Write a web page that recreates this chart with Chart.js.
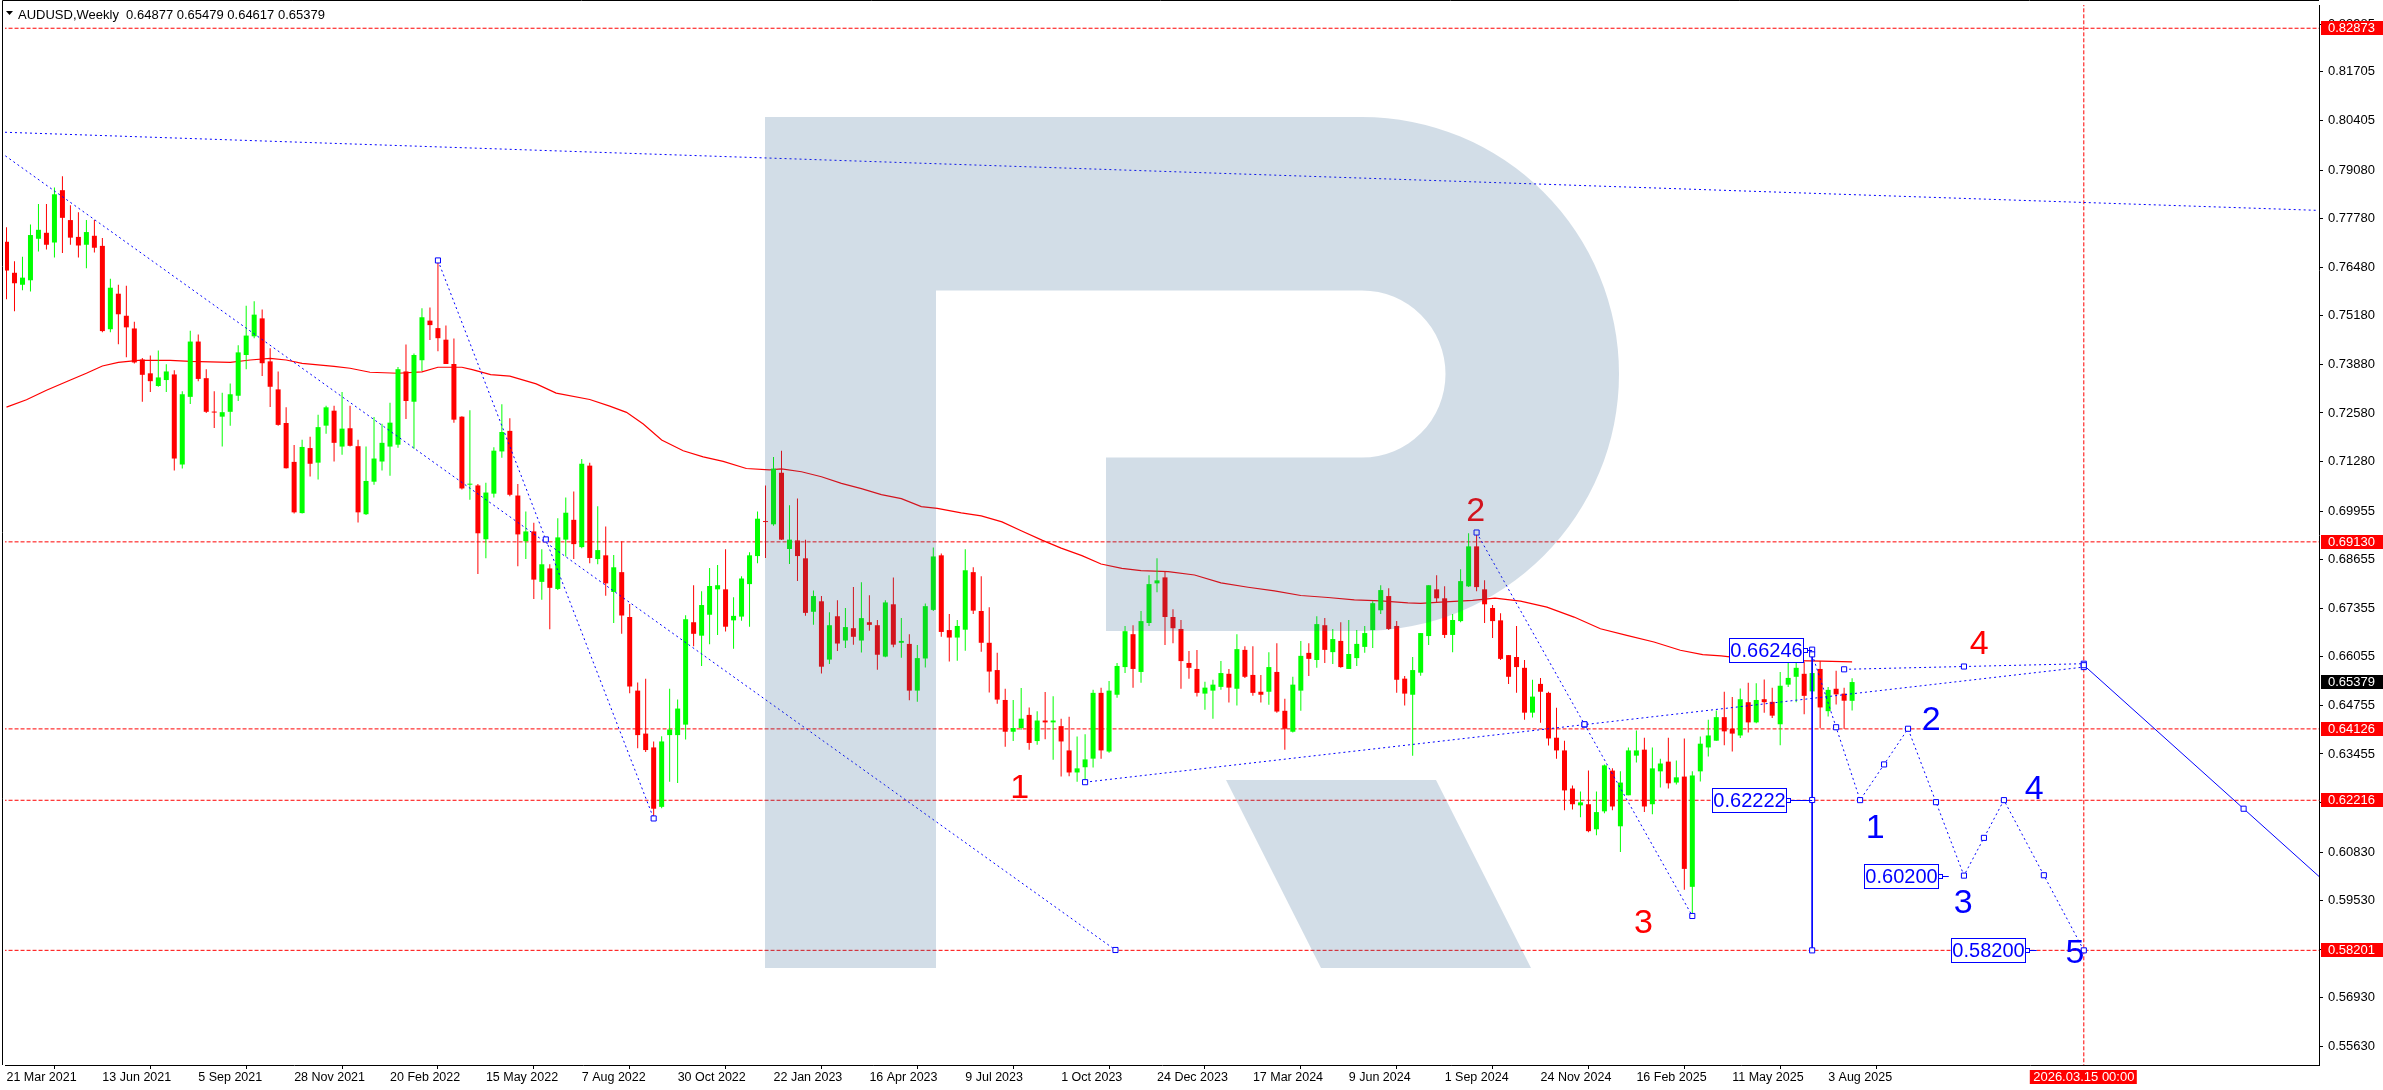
<!DOCTYPE html>
<html><head><meta charset="utf-8">
<script src="https://cdn.jsdelivr.net/npm/chart.js@4.4.1/dist/chart.umd.min.js"></script>
<style>html,body{margin:0;padding:0;background:#fff;overflow:hidden}canvas{display:block}</style>
</head><body>
<canvas id="c" width="2383" height="1090" style="width:2383px;height:1090px"></canvas>
<script>
// ===== DATA (weekly AUDUSD candles, first candle = week of 21 Mar 2021) =====
const candleOpen = [
0.7716,0.7633,0.7601,0.7613,0.7724,0.7740,0.7714,0.7854,0.7774,0.7729,
0.7708,0.7732,0.7705,0.7482,0.7577,0.7518,0.7484,0.7401,0.7364,0.7330,
0.7346,0.7361,0.7120,0.7301,0.7449,0.7351,0.7261,0.7248,0.7261,0.7304,
0.7413,0.7463,0.7511,0.7396,0.7321,0.7231,0.7127,0.6990,0.7164,0.7125,
0.7224,0.7264,0.7168,0.7217,0.7169,0.6987,0.7074,0.7128,0.7168,0.7173,
0.7369,0.7288,0.7399,0.7505,0.7485,0.7454,0.7389,0.7248,0.7066,0.7064,
0.6920,0.7042,0.7155,0.7210,0.7037,0.6915,0.6941,0.6806,0.6842,0.6787,
0.6919,0.6972,0.6899,0.7117,0.6867,0.6877,0.6779,0.6832,0.6712,0.6515,
0.6400,0.6363,0.6204,0.6396,0.6396,0.6424,0.6698,0.6662,0.6718,0.6786,
0.6786,0.6703,0.6713,0.6800,0.6875,0.6967,0.6960,0.7098,0.6894,0.6917,
0.6869,0.6726,0.6754,0.6598,0.6714,0.6649,0.6682,0.6649,0.6698,0.6690,
0.6606,0.6746,0.6643,0.6640,0.6515,0.6601,0.6731,0.6877,0.6677,0.6657,
0.6678,0.6832,0.6728,0.6643,0.6570,0.6490,0.6405,0.6415,0.6450,0.6380,
0.6435,0.6430,0.6420,0.6355,0.6296,0.6310,0.6333,0.6509,0.6352,0.6504,
0.6578,0.6666,0.6565,0.6696,0.6802,0.6818,0.6712,0.6680,0.6589,0.6573,
0.6507,0.6515,0.6525,0.6560,0.6520,0.6624,0.6557,0.6512,0.6512,0.6565,
0.6461,0.6405,0.6515,0.6616,0.6597,0.6690,0.6618,0.6648,0.6573,0.6602,
0.6632,0.6677,0.6730,0.6768,0.6688,0.6547,0.6504,0.6563,0.6661,0.6786,
0.6762,0.6664,0.6701,0.6794,0.6901,0.6786,0.6736,0.6703,0.6610,0.6605,
0.6576,0.6456,0.6533,0.6509,0.6389,0.6355,0.6253,0.6208,0.6211,0.6144,
0.6192,0.6301,0.6152,0.6235,0.6341,0.6357,0.6211,0.6299,0.6325,0.6269,
0.6285,0.5990,0.6299,0.6363,0.6381,0.6444,0.6413,0.6395,0.6484,0.6430,
0.6492,0.6485,0.6425,0.6531,0.6552,0.6560,0.6513,0.6573,0.6460,0.6520,
0.6507,0.64877];
const candleHigh = [
0.7755,0.7664,0.7676,0.7762,0.7817,0.7817,0.7861,0.7891,0.7814,0.7795,
0.7774,0.7774,0.7726,0.7617,0.7601,0.7598,0.7502,0.7405,0.7412,0.7425,
0.7388,0.7372,0.7316,0.7478,0.7468,0.7375,0.7316,0.7312,0.7337,0.7439,
0.7545,0.7557,0.7535,0.7431,0.7369,0.7273,0.7172,0.7186,0.7194,0.7253,
0.7277,0.7277,0.7314,0.7277,0.7186,0.7168,0.7247,0.7229,0.7285,0.7381,
0.7441,0.7417,0.7538,0.7540,0.7666,0.7492,0.7457,0.7249,0.7265,0.7068,
0.7071,0.7166,0.7281,0.7244,0.7068,0.6994,0.6964,0.6893,0.6853,0.6976,
0.7032,0.7048,0.7135,0.7125,0.7008,0.6954,0.6878,0.6915,0.6747,0.6537,
0.6547,0.6379,0.6393,0.6520,0.6491,0.6717,0.6797,0.6781,0.6843,0.6851,
0.6893,0.6765,0.6821,0.6885,0.6994,0.7064,0.7140,0.7157,0.7011,0.7029,
0.6919,0.6783,0.6768,0.6725,0.6757,0.6736,0.6792,0.6805,0.6770,0.6704,
0.6757,0.6818,0.6709,0.6666,0.6637,0.6748,0.6898,0.6882,0.6720,0.6704,
0.6893,0.6845,0.6821,0.6738,0.6616,0.6520,0.6490,0.6522,0.6470,0.6460,
0.6511,0.6500,0.6440,0.6445,0.6392,0.6398,0.6517,0.6523,0.6541,0.6589,
0.6688,0.6690,0.6728,0.6824,0.6869,0.6834,0.6733,0.6704,0.6621,0.6624,
0.6539,0.6544,0.6594,0.6573,0.6666,0.6634,0.6634,0.6557,0.6618,0.6642,
0.6493,0.6552,0.6648,0.6642,0.6714,0.6709,0.6680,0.6698,0.6704,0.6677,
0.6688,0.6754,0.6797,0.6789,0.6701,0.6554,0.6605,0.6669,0.6797,0.6824,
0.6794,0.6720,0.6840,0.6936,0.6938,0.6810,0.6744,0.6722,0.6610,0.6688,
0.6597,0.6544,0.6549,0.6512,0.6469,0.6381,0.6261,0.6245,0.6301,0.6245,
0.6317,0.6307,0.6299,0.6363,0.6408,0.6389,0.6363,0.6333,0.6389,0.6328,
0.6387,0.6299,0.6392,0.6437,0.6462,0.6512,0.6498,0.6521,0.6536,0.6535,
0.6545,0.6523,0.6565,0.6605,0.6618,0.6592,0.6589,0.6594,0.6525,0.6568,
0.6523,0.65479];
const candleLow = [
0.7562,0.7530,0.7586,0.7583,0.7690,0.7695,0.7674,0.7686,0.7708,0.7674,
0.7645,0.7687,0.7474,0.7474,0.7442,0.7407,0.7390,0.7288,0.7314,0.7328,
0.7314,0.7104,0.7109,0.7282,0.7343,0.7258,0.7218,0.7168,0.7224,0.7290,
0.7375,0.7458,0.7357,0.7274,0.7224,0.7109,0.6989,0.6989,0.7088,0.7080,
0.7202,0.7128,0.7146,0.7168,0.6965,0.6985,0.7066,0.7104,0.7090,0.7165,
0.7242,0.7162,0.7370,0.7453,0.7423,0.7389,0.7232,0.7053,0.7026,0.6827,
0.6869,0.7032,0.7138,0.7035,0.6848,0.6867,0.6760,0.6758,0.6679,0.6784,
0.6874,0.6867,0.6896,0.6856,0.6853,0.6769,0.6696,0.6667,0.6508,0.6361,
0.6351,0.6173,0.6200,0.6271,0.6268,0.6384,0.6634,0.6581,0.6639,0.6664,
0.6673,0.6627,0.6702,0.6686,0.6856,0.6870,0.6956,0.6918,0.6854,0.6808,
0.6715,0.6691,0.6561,0.6586,0.6621,0.6629,0.6638,0.6617,0.6675,0.6571,
0.6604,0.6631,0.6603,0.6489,0.6485,0.6577,0.6728,0.6659,0.6593,0.6595,
0.6622,0.6720,0.6619,0.6510,0.6480,0.6365,0.6380,0.6410,0.6357,0.6370,
0.6385,0.6330,0.6285,0.6286,0.6271,0.6270,0.6309,0.6333,0.6349,0.6496,
0.6562,0.6523,0.6536,0.6688,0.6778,0.6637,0.6642,0.6520,0.6547,0.6499,
0.6464,0.6440,0.6517,0.6483,0.6475,0.6549,0.6501,0.6483,0.6477,0.6456,
0.6357,0.6403,0.6461,0.6554,0.6576,0.6589,0.6586,0.6576,0.6573,0.6581,
0.6616,0.6629,0.6720,0.6677,0.6509,0.6475,0.6341,0.6555,0.6637,0.6752,
0.6656,0.6618,0.6698,0.6792,0.6781,0.6696,0.6656,0.6597,0.6533,0.6509,
0.6437,0.6443,0.6429,0.6368,0.6333,0.6195,0.6197,0.6176,0.6136,0.6128,
0.6187,0.6195,0.6083,0.6235,0.6323,0.6190,0.6184,0.6256,0.6253,0.6264,
0.5982,0.5912,0.6272,0.6339,0.6381,0.6369,0.6352,0.6388,0.6403,0.6428,
0.6456,0.6442,0.6369,0.6525,0.6484,0.6452,0.6505,0.6414,0.6446,0.6478,
0.6412,0.64617];
const candleClose = [
0.7639,0.7605,0.7620,0.7734,0.7748,0.7708,0.7843,0.7780,0.7727,0.7706,
0.7742,0.7700,0.7477,0.7593,0.7522,0.7487,0.7393,0.7360,0.7343,0.7353,
0.7369,0.7136,0.7308,0.7449,0.7349,0.7261,0.7259,0.7260,0.7308,0.7420,
0.7465,0.7521,0.7391,0.7328,0.7226,0.7110,0.6992,0.7167,0.7122,0.7220,
0.7273,0.7178,0.7216,0.7170,0.6992,0.7076,0.7136,0.7178,0.7232,0.7375,
0.7290,0.7413,0.7514,0.7493,0.7458,0.7389,0.7240,0.7056,0.7068,0.6936,
0.7045,0.7157,0.7207,0.7039,0.6933,0.6941,0.6812,0.6853,0.6790,0.6925,
0.6991,0.6907,0.7122,0.6870,0.6891,0.6802,0.6845,0.6716,0.6526,0.6396,
0.6356,0.6199,0.6379,0.6411,0.6467,0.6706,0.6667,0.6744,0.6795,0.6797,
0.6686,0.6715,0.6815,0.6877,0.6975,0.6966,0.7109,0.6919,0.6919,0.6875,
0.6723,0.6768,0.6579,0.6690,0.6641,0.6685,0.6659,0.6709,0.6691,0.6611,
0.6751,0.6638,0.6648,0.6515,0.6602,0.6741,0.6874,0.6672,0.6657,0.6688,
0.6837,0.6729,0.6643,0.6566,0.6491,0.6405,0.6415,0.6440,0.6375,0.6435,
0.6430,0.6435,0.6379,0.6296,0.6307,0.6331,0.6509,0.6355,0.6515,0.6581,
0.6674,0.6573,0.6701,0.6800,0.6810,0.6712,0.6682,0.6594,0.6576,0.6509,
0.6523,0.6531,0.6562,0.6523,0.6626,0.6552,0.6509,0.6504,0.6578,0.6459,
0.6413,0.6531,0.6608,0.6600,0.6693,0.6624,0.6653,0.6578,0.6613,0.6640,
0.6669,0.6749,0.6784,0.6680,0.6544,0.6507,0.6570,0.6669,0.6797,0.6762,
0.6664,0.6704,0.6808,0.6901,0.6792,0.6746,0.6701,0.6600,0.6552,0.6578,
0.6456,0.6499,0.6512,0.6387,0.6355,0.6248,0.6211,0.6216,0.6139,0.6190,
0.6315,0.6205,0.6269,0.6355,0.6355,0.6205,0.6307,0.6320,0.6267,0.6283,
0.6038,0.6288,0.6373,0.6395,0.6444,0.6406,0.6400,0.6492,0.6430,0.6490,
0.6484,0.6448,0.6528,0.6549,0.6576,0.6501,0.6562,0.6470,0.6517,0.6505,
0.6488,0.65379];

// moving average (bar index, value)
const maIndex = [0,2.5,5,8,10,12,14,16.5,20.5,23,28,30.5,33,35,37,41,43,45.5,49,52,54,57,58.3,60.6,63,66.3,68.8,73,75.5,77.6,79.7,82,84.7,87.2,89.7,92.6,95.5,97,99.5,102,104.5,107,109.5,112,114.5,116.5,119.5,122,124.6,127,129.6,132,134.6,137,139.6,142,145.4,148.7,152,155.4,158.7,162,165.4,168.7,172,175.4,177,179.5,183.5,186.3,189.5,192.8,196.2,199.5,202.8,206.2,209.5,212.3,214.6,217.1,220.5,223.8,227.2,231];
const maValue = [0.72736,0.72931,0.73189,0.73463,0.73642,0.73836,0.73935,0.73988,0.73988,0.73961,0.73935,0.73996,0.74041,0.73996,0.73908,0.73828,0.73775,0.73669,0.73642,0.73677,0.73802,0.73802,0.73738,0.73605,0.73565,0.73357,0.73109,0.72939,0.72763,0.72595,0.72284,0.71858,0.71567,0.71405,0.71282,0.71093,0.71059,0.71085,0.71006,0.70872,0.70694,0.70553,0.70393,0.70287,0.70073,0.70028,0.69906,0.69826,0.69666,0.69426,0.69176,0.68963,0.68761,0.68537,0.68422,0.68361,0.68334,0.68244,0.68031,0.67916,0.67818,0.67695,0.67642,0.67578,0.67552,0.67498,0.67482,0.67517,0.67565,0.67624,0.67544,0.67384,0.67118,0.66806,0.6663,0.66452,0.66231,0.66115,0.66079,0.66018,0.65981,0.65954,0.65938,0.65919];

// x-axis date ticks (bar index -> label)
const dateTickIndex = [0,12,24,36,48,60,72,84,96,108,120,132,144,156,168,180,192,204,216,228];
const dateTickLabels = ['21 Mar 2021','13 Jun 2021','5 Sep 2021','28 Nov 2021','20 Feb 2022','15 May 2022','7 Aug 2022','30 Oct 2022','22 Jan 2023','16 Apr 2023','9 Jul 2023','1 Oct 2023','24 Dec 2023','17 Mar 2024','9 Jun 2024','1 Sep 2024','24 Nov 2024','16 Feb 2025','11 May 2025','3 Aug 2025'];
// y-axis price ticks
const priceTicks = [0.82985,0.81705,0.80405,0.79080,0.77780,0.76480,0.75180,0.73880,0.72580,0.71280,0.69955,0.68655,0.67355,0.66055,0.64755,0.63455,0.62155,0.60830,0.59530,0.58230,0.56930,0.55630];
// horizontal levels (red dashed) and the current price
const levelPrices = [0.82873,0.69130,0.64126,0.62216,0.58201];
const lastPrice = 0.65379;
const forecastDateIndex = 260; const forecastDateLabel = '2026.03.15 00:00';

// drawn analysis objects (bar index, price)
const dottedLines = [
  [[-0.19,0.8009],[289.3,0.7800]],
  [[-0.15,0.7946],[138.8,0.5821]],
  [[54,0.7666],[81,0.6173]],
  [[135,0.6270],[260,0.6578]],
  [[184,0.6938],[211,0.5912]],
  [[230,0.6572],[260,0.6587]]
];
const dottedMarked = [false,'end',true,true,true,true];
const solidLines = [
  [[260,0.6583],[300,0.5815]],
  [[226,0.66246],[226,0.58200]]
];
const forecastPath = [[226,0.6612],[232,0.6222],[238,0.6413],[245,0.6020],[250,0.6222],[260,0.5820]];
const priceBoxes = [
  {text:'0.66246', price:0.66246, right:224.8, to:226},
  {text:'0.62222', price:0.62222, right:222.7, to:226},
  {text:'0.60200', price:0.60200, right:241.7, to:243.1},
  {text:'0.58200', price:0.58200, right:252.7, to:254.1}
];
const waveText  = ['1','2','3','4','1','2','3','4','5'];
const waveIndex = [126.8,183.9,204.9,246.9,233.9,240.9,244.9,253.8,258.9];
const wavePrice = [0.6227,0.6970,0.58675,0.66132,0.61205,0.64108,0.59208,0.62243,0.57849];
const waveRed   = [true,true,true,true,false,false,false,false,false];

// ===== BUILD =====
const FONT = '"Liberation Sans", Arial, "DejaVu Sans", sans-serif';
const GREEN = '#00ff00', RED = '#ff0000', BLUE = '#0000ff';
const N = candleOpen.length;
const idx = Array.from({length:N}, (_, i) => i);
const candleColor = idx.map(i => candleClose[i] >= candleOpen[i] ? GREEN : RED);

const datasets = [];
// levels
levelPrices.forEach(p => datasets.push({type:'line', data:[{x:-5,y:p},{x:300,y:p}], borderColor:RED, borderWidth:1, borderDash:[4,2], pointRadius:0, order:60, clip:0}));
datasets.push({type:'line', data:[{x:forecastDateIndex,y:0.3},{x:forecastDateIndex,y:1.2}], borderColor:RED, borderWidth:1, borderDash:[4,2], pointRadius:0, order:60, clip:0});
// MA
datasets.push({type:'line', data:maIndex.map((x,k)=>({x, y:maValue[k]})), borderColor:RED, borderWidth:1.2, pointRadius:0, tension:0, order:50, clip:0});
// candles
datasets.push({type:'bar', data:idx.map(i=>({x:i, y:[candleLow[i], candleHigh[i]]})), backgroundColor:candleColor, barThickness:1, grouped:false, borderWidth:0, inflateAmount:0, order:40, clip:0});
datasets.push({type:'bar', data:idx.map(i=>({x:i, y:[candleOpen[i], candleClose[i]]})), backgroundColor:candleColor, barThickness:5, minBarLength:1, grouped:false, borderWidth:0, inflateAmount:0, order:39, clip:0});
// lines
const markers = [];
dottedLines.forEach((ln, k) => {
  datasets.push({type:'line', data:ln.map(p=>({x:p[0],y:p[1]})), borderColor:BLUE, borderWidth:1, borderDash:[2,3], pointRadius:0, order:30, clip:0});
  if (dottedMarked[k] === true) { markers.push(ln[0], [(ln[0][0]+ln[1][0])/2,(ln[0][1]+ln[1][1])/2], ln[1]); }
  else if (dottedMarked[k] === 'end') markers.push(ln[1]);
});
solidLines.forEach(ln => {
  datasets.push({type:'line', data:ln.map(p=>({x:p[0],y:p[1]})), borderColor:BLUE, borderWidth:1, pointRadius:0, order:30, clip:0});
  markers.push(ln[0], [(ln[0][0]+ln[1][0])/2,(ln[0][1]+ln[1][1])/2], ln[1]);
});
datasets.push({type:'line', data:forecastPath.map(p=>({x:p[0],y:p[1]})), borderColor:BLUE, borderWidth:1, borderDash:[2,3], pointRadius:0, order:30, clip:0});
forecastPath.forEach((p, k) => { markers.push(p); if (k < forecastPath.length-1) { const q = forecastPath[k+1]; markers.push([(p[0]+q[0])/2,(p[1]+q[1])/2]); } });
datasets.push({type:'line', data:markers.map(p=>({x:p[0],y:p[1]})), showLine:false, pointStyle:'rect', pointRadius:3.6, pointBorderWidth:1, pointBorderColor:BLUE, pointBackgroundColor:'#ffffff', order:20, clip:0});

const overlay = {
  id:'overlay',
  afterDatasetsDraw(chart) {
    const {ctx, chartArea:a, scales:{x, y}} = chart;
    ctx.save();
    ctx.beginPath(); ctx.rect(a.left, a.top, a.right-a.left, a.bottom-a.top); ctx.clip();
    // price boxes
    ctx.font = '20px ' + FONT; ctx.textAlign = 'center'; ctx.textBaseline = 'middle';
    priceBoxes.forEach(b => {
      const r = Math.round(x.getPixelForValue(b.right)) + 0.5, py = Math.round(y.getPixelForValue(b.price)) + 0.5;
      const to = x.getPixelForValue(b.to);
      ctx.strokeStyle = BLUE; ctx.lineWidth = 1;
      ctx.beginPath(); ctx.moveTo(r, py); ctx.lineTo(to, py); ctx.stroke();
      ctx.fillStyle = '#fff'; ctx.fillRect(r-74, py-12, 74, 24);
      ctx.strokeRect(r-74, py-12, 74, 24);
      ctx.fillRect(r, py-2, 4, 4); ctx.strokeRect(r, py-2, 4, 4);
      ctx.fillStyle = BLUE; ctx.fillText(b.text, r-37, py+1);
    });
    // wave numbers
    ctx.font = '34px ' + FONT; ctx.textBaseline = 'alphabetic'; ctx.textAlign = 'center';
    waveText.forEach((t, k) => { ctx.fillStyle = waveRed[k] ? RED : BLUE; ctx.fillText(t, x.getPixelForValue(waveIndex[k]), y.getPixelForValue(wavePrice[k])); });
    // watermark logo overlay
    ctx.fillStyle = 'rgba(43,96,144,0.21)';
    ctx.beginPath();
    ctx.moveTo(765,117); ctx.lineTo(1362,117);
    ctx.arc(1362,374,257,-Math.PI/2,Math.PI/2,false);
    ctx.lineTo(1106,631); ctx.lineTo(1106,457.5); ctx.lineTo(1362,457.5);
    ctx.arc(1362,374,83.5,Math.PI/2,-Math.PI/2,true);
    ctx.lineTo(936,290.5); ctx.lineTo(936,968); ctx.lineTo(765,968); ctx.closePath();
    ctx.moveTo(1226,780); ctx.lineTo(1436,780); ctx.lineTo(1531,968); ctx.lineTo(1321,968); ctx.closePath();
    ctx.fill();
    ctx.restore();
  },
  afterDraw(chart) {
    const {ctx, chartArea:a, scales:{x, y}} = chart;
    ctx.save();
    ctx.strokeStyle = '#000'; ctx.lineWidth = 1;
    ctx.beginPath(); ctx.moveTo(2.5, 1065); ctx.lineTo(2.5, 0.5); ctx.lineTo(a.right, 0.5); ctx.stroke();
    // axis price labels
    ctx.font = '13px ' + FONT; ctx.textBaseline = 'middle'; ctx.textAlign = 'left';
    const tag = (p, bg) => { const py = Math.round(y.getPixelForValue(p)); ctx.fillStyle = bg; ctx.fillRect(a.right+2, py-7, 62, 14); ctx.fillStyle = '#fff'; ctx.fillText(p.toFixed(5), a.right+9, py+0.5); };
    levelPrices.forEach(p => tag(p, RED));
    tag(lastPrice, '#000');
    // forecast date tag
    const dx = x.getPixelForValue(forecastDateIndex);
    ctx.fillStyle = RED; ctx.fillRect(dx-54, 1070, 107, 14);
    ctx.fillStyle = '#fff'; ctx.textAlign = 'center'; ctx.fillText(forecastDateLabel, dx, 1077.5);
    // title
    ctx.fillStyle = '#000';
    ctx.beginPath(); ctx.moveTo(6,11); ctx.lineTo(13,11); ctx.lineTo(9.5,15); ctx.closePath(); ctx.fill();
    ctx.textAlign = 'left'; ctx.textBaseline = 'alphabetic';
    const L = N-1;
    ctx.fillText('AUDUSD,Weekly  ' + [candleOpen[L],candleHigh[L],candleLow[L],candleClose[L]].map(v=>v.toFixed(5)).join(' '), 18, 18.5);
    ctx.restore();
  }
};

const YMAX = 0.83495, YMIN = 0.83495 - 1065/3755;
new Chart(document.getElementById('c'), {
  type:'bar',
  data:{datasets},
  options:{
    responsive:false, devicePixelRatio:1, animation:false, events:[],
    layout:{padding:{left:2, right:0, top:0, bottom:0}},
    plugins:{legend:{display:false}, tooltip:{enabled:false}},
    scales:{
      x:{type:'linear', min:-0.1875, max:289.4375, offset:false,
         afterBuildTicks:s=>{ s.ticks = dateTickIndex.map(v=>({value:v})); },
         afterFit:s=>{ s.height = 25; s.paddingLeft = 0; s.paddingRight = 0; },
         ticks:{autoSkip:false, maxRotation:0, minRotation:0, align:'start', padding:1, color:'#000', font:{family:FONT, size:12.5}, callback:(v,i)=>dateTickLabels[i]},
         grid:{drawOnChartArea:false, drawTicks:true, tickLength:4, color:'#000'},
         border:{display:true, color:'#000', width:1}},
      y:{type:'linear', position:'right', min:YMIN, max:YMAX,
         afterBuildTicks:s=>{ s.ticks = priceTicks.map(v=>({value:v})); },
         afterFit:s=>{ s.width = 64; s.paddingTop = 0; s.paddingBottom = 0; },
         ticks:{autoSkip:false, padding:5, color:'#000', font:{family:FONT, size:13}, callback:v=>Number(v).toFixed(5)},
         grid:{drawOnChartArea:false, drawTicks:true, tickLength:4, color:'#000'},
         border:{display:true, color:'#000', width:1}}
    }
  },
  plugins:[overlay]
});
</script>
</body></html>
